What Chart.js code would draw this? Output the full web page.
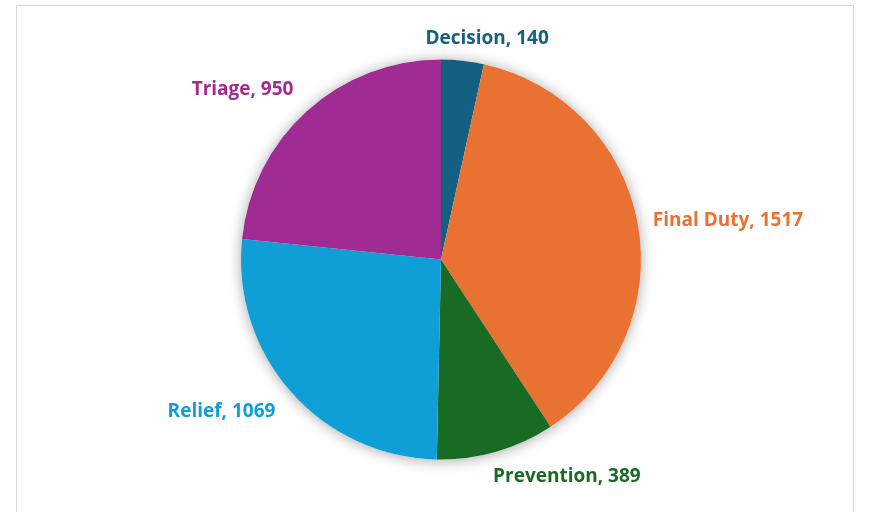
<!DOCTYPE html>
<html>
<head>
<meta charset="utf-8">
<script src="https://cdn.jsdelivr.net/npm/chart.js@4.4.1/dist/chart.umd.min.js"></script>
<style>
  html, body { margin: 0; padding: 0; background: #fff; }
  #wrap { position: relative; width: 870px; height: 512px; overflow: hidden; }
  #frame { position: absolute; left: 16px; top: 5px; width: 838px; height: 520px; border: 1px solid #d9d9d9; box-sizing: border-box; }
  #chart { position: absolute; left: 0; top: 0; }
</style>
</head>
<body>
<div id="wrap">
  <div id="frame"></div>
  <canvas id="chart" width="870" height="512"></canvas>
</div>
<script>
// data
const categories = ["Decision", "Final Duty", "Prevention", "Relief", "Triage"];
const values = [140, 1517, 389, 1069, 950];
const colors = ["#156082", "#E97132", "#196B24", "#0F9ED5", "#A02B93"];

// label placement: angle (deg clockwise from top) and distance in radii
const labelAngles = [11.8, 82.3, 149.9, 235.3, 310.5];
const labelDists = [1.128, 1.448, 1.255, 1.335, 1.305];

// soft shadow under the pie
const pieShadow = {
  id: "pieShadow",
  beforeDatasetsDraw(chart) {
    const arc = chart.getDatasetMeta(0).data[0];
    if (!arc) return;
    const ctx = chart.ctx;
    ctx.save();
    ctx.shadowColor = "rgba(0,0,0,0.35)";
    ctx.shadowBlur = 14;
    ctx.shadowOffsetX = 0;
    ctx.shadowOffsetY = 1;
    ctx.fillStyle = "#ffffff";
    ctx.beginPath();
    ctx.arc(arc.x, arc.y, arc.outerRadius, 0, Math.PI * 2);
    ctx.fill();
    ctx.restore();
  }
};

// outside labels "Name, value"
const outsideLabels = {
  id: "outsideLabels",
  afterDatasetsDraw(chart) {
    const meta = chart.getDatasetMeta(0);
    const ctx = chart.ctx;
    ctx.save();
    ctx.font = "bold 19px 'Open Sans', sans-serif";
    ctx.textAlign = "center";
    ctx.textBaseline = "middle";
    meta.data.forEach((arc, i) => {
      const a = labelAngles[i] * Math.PI / 180;
      const d = arc.outerRadius * labelDists[i];
      const x = arc.x + Math.sin(a) * d;
      const y = arc.y - Math.cos(a) * d;
      ctx.fillStyle = colors[i];
      ctx.fillText(`${categories[i]}, ${values[i]}`, x, y);
    });
    ctx.restore();
  }
};

new Chart(document.getElementById("chart"), {
  type: "pie",
  data: {
    labels: categories,
    datasets: [{
      data: values,
      backgroundColor: colors,
      borderWidth: 0
    }]
  },
  options: {
    responsive: false,
    animation: false,
    layout: { padding: { top: 59, bottom: 52, left: 241, right: 229 } },
    plugins: {
      legend: { display: false },
      tooltip: { enabled: false }
    }
  },
  plugins: [pieShadow, outsideLabels]
});
</script>
</body>
</html>
